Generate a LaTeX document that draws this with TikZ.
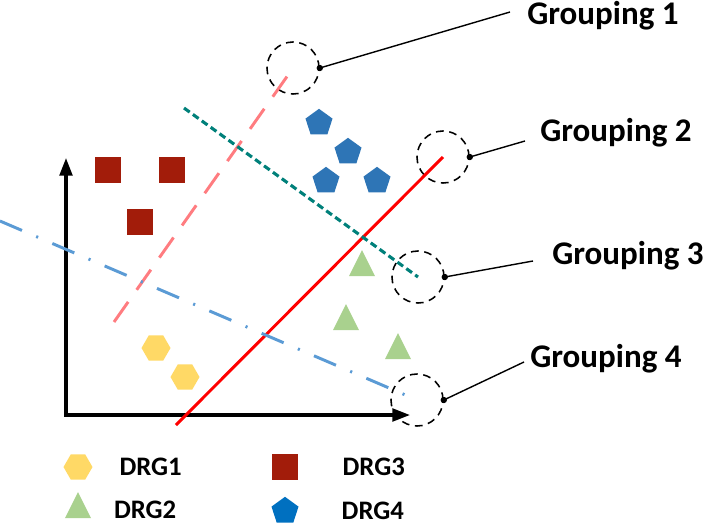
\documentclass[tikz,border=0pt]{standalone}
\usepackage{fontspec}
\setmainfont{Carlito}
\usetikzlibrary{shapes.geometric,arrows.meta,positioning}
\definecolor{sqclr}{RGB}{162,28,10}
\definecolor{pgclr}{RGB}{46,117,182}
\definecolor{pglgd}{RGB}{0,112,192}
\definecolor{hxclr}{RGB}{255,217,102}
\definecolor{trclr}{RGB}{169,209,142}
\definecolor{pinkln}{RGB}{255,124,128}
\definecolor{tealln}{RGB}{0,128,122}
\definecolor{blueln}{RGB}{91,155,213}
\definecolor{redln}{RGB}{255,0,0}
\tikzset{
  %% DRG markers
  sqm/.style={rectangle,fill=sqclr,minimum size=0.65cm,inner sep=0pt},
  pgm/.style={regular polygon,regular polygon sides=5,fill=#1,
    minimum size=0.71cm,inner sep=0pt},
  pgm/.default=pgclr,
  hxm/.style={regular polygon,regular polygon sides=6,fill=hxclr,
    minimum size=0.725cm,inner sep=0pt},
  trm/.style={isosceles triangle,isosceles triangle stretches,
    shape border rotate=90,fill=trclr,
    minimum width=0.65cm,minimum height=0.65cm,inner sep=0pt},
  %% grouping lines
  g1ln/.style={pinkln,line width=2.1pt,dash pattern=on 17.5pt off 10.5pt},
  g2ln/.style={redln,line width=2.1pt},
  g3ln/.style={tealln,line width=2.2pt,dash pattern=on 5pt off 2.8pt},
  g4ln/.style={blueln,line width=2.1pt,
    dash pattern=on 17pt off 11pt on 1.5pt off 11pt},
  %% dashed ring + callout
  ring/.style={circle,draw=black,line width=1.1pt,
    dash pattern=on 5.5pt off 4pt,minimum size=1.3cm,inner sep=0pt},
  callout/.style={black,line width=1pt},
  grptxt/.style={font=\fontsize{23.5}{28}\selectfont\bfseries,
    anchor=base west,inner sep=0pt},
  lgtxt/.style={font=\fontsize{19}{23}\selectfont\bfseries,inner sep=0pt},
  %% axes
  axis/.style={line width=2.2pt,
    {Triangle[length=12.5pt,width=9pt]}-{Triangle[length=12.5pt,width=9pt]}},
}
\begin{document}
\begin{tikzpicture}[x=0.025cm,y=-0.025cm]
  \useasboundingbox (0,0) rectangle (704,528);

  %% axes
  \coordinate (ytip) at (66,158);
  \coordinate (org)  at (66,415);
  \coordinate (xtip) at (410,415);
  \draw[axis] (ytip) -- (org) -- (xtip);

  %% DRG3 squares
  \node[sqm] (s1) at (108,170) {};
  \node[sqm] (s2) at (172,170) {};
  \node[sqm] (s3) at (140,222) {};

  %% DRG4 pentagons
  \node[pgm] (p1) at (319,123) {};
  \node[pgm] (p2) at (348,152) {};
  \node[pgm] (p3) at (326,181) {};
  \node[pgm] (p4) at (377,181) {};

  %% DRG1 hexagons
  \node[hxm] (h1) at (156,348) {};
  \node[hxm] (h2) at (185,377) {};

  %% DRG2 triangles
  \node[trm] (t1) at (362,268) {};
  \node[trm] (t2) at (346,322) {};
  \node[trm] (t3) at (398,351) {};

  %% rings at the line ends
  \node[ring] (g1) at (293,68)  {};
  \node[ring] (g2) at (443,157) {};
  \node[ring] (g3) at (418,277) {};
  \node[ring] (g4) at (417,400) {};

  %% grouping lines
  \coordinate (a1) at (114,322);
  \coordinate (a2) at (176,425);
  \coordinate (a3) at (184,108);
  \coordinate (a4) at (0,221);
  \draw[g1ln] (a1) -- (g1.center);
  \draw[g2ln] (a2) -- (g2.center);
  \draw[g3ln] (a3) -- (g3.center);
  \draw[g4ln] (a4) -- (g4.center);

  %% callouts
  \coordinate (e1) at (510,12);
  \coordinate (e2) at (525,141);
  \coordinate (e3) at (533,261);
  \coordinate (e4) at (524,362);
  \draw[callout] (g1.east) -- (e1);
  \draw[callout] (g2.east) -- (e2);
  \draw[callout] (g3.east) -- (e3);
  \draw[callout] (g4.east) -- (e4);
  \foreach \g in {g1,g2,g3,g4}
    \fill (\g.east) circle (3.2);

  \node[grptxt] (n1) at (527,24)  {Grouping 1};
  \node[grptxt] (n2) at (540,141) {Grouping 2};
  \node[grptxt] (n3) at (552,264) {Grouping 3};
  \node[grptxt] (n4) at (530,367) {Grouping 4};

  %% legend
  \node[hxm] (lg1) at (78,467) {};
  \node[trm] (lg2) at (78,510) {};
  \node[sqm] (lg3) at (285,467) {};
  \node[pgm=pglgd] (lg4) at (285,511) {};
  \node[lgtxt,right=0.66cm of lg1] (lt1) {DRG1};
  \node[lgtxt,right=0.66cm of lg2] (lt2) {DRG2};
  \node[lgtxt,right=1.1cm of lg3]  (lt3) {DRG3};
  \node[lgtxt,right=1.1cm of lg4]  (lt4) {DRG4};

\end{tikzpicture}
\end{document}
